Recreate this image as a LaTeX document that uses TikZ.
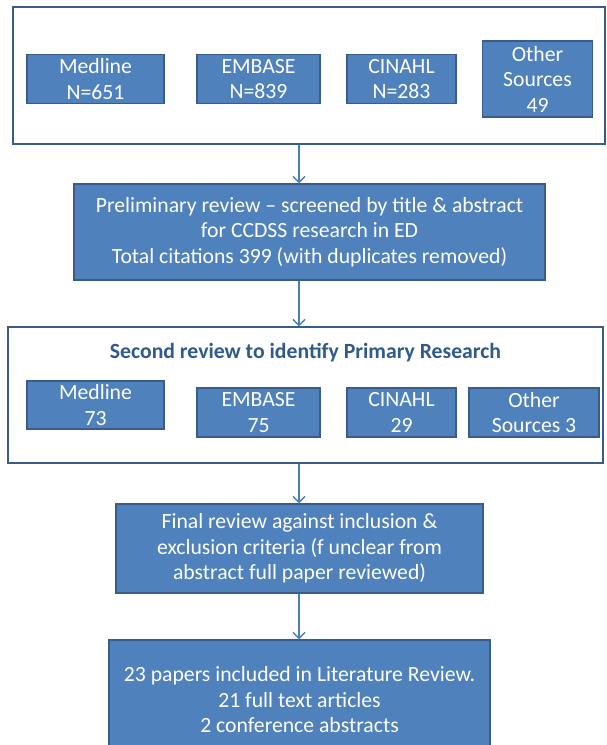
\documentclass[tikz,border=0pt]{standalone}
\usepackage{fontspec}
\setmainfont{Carlito}
\usetikzlibrary{arrows.meta}
\definecolor{boxblue}{HTML}{4F81BD}
\definecolor{boxedge}{HTML}{385D8A}
\definecolor{arrblue}{HTML}{4A7EBB}
\definecolor{titleblue}{HTML}{2F5A8E}
\tikzset{
  bluebox/.style={draw=boxedge, line width=1.4pt, fill=boxblue, text=white, align=center,
    font=\fontsize{21.7}{25.5}\selectfont, inner sep=0pt},
  outerbox/.style={draw=boxedge, line width=1.4pt, fill=white, inner sep=0pt},
  arr/.style={draw=arrblue, line width=1.3pt, -{Straight Barb[length=6pt,width=12pt,line width=1.3pt]}}
}
\begin{document}
\begin{tikzpicture}[x=1pt,y=-1pt]
\useasboundingbox (0,0) rectangle (606,745);
\fill[white] (0,0) rectangle (606,745);
% top group
\node[outerbox, minimum width=592pt, minimum height=137pt] (top) at (309,75.5) {};
\node[bluebox, minimum width=137pt, minimum height=49pt] (m1) at (95.5,79) {Medline\\N=651};
\node[bluebox, minimum width=123pt, minimum height=49pt] (e1) at (258.5,79) {EMBASE\\N=839};
\node[bluebox, minimum width=109pt, minimum height=49pt] (c1) at (401.5,79) {CINAHL\\N=283};
\node[bluebox, minimum width=110pt, minimum height=76pt] (o1) at (537.5,79) {Other\\Sources\\49};
% preliminary
\node[bluebox, minimum width=471pt, minimum height=96pt] (prelim) at (309.5,232) {Preliminary review -- screened by title \& abstract\\for CCDSS research in ED\\Total citations 399 (with duplicates removed)};
% second group
\node[outerbox, minimum width=595pt, minimum height=136pt] (second) at (305.5,395) {};
\node[text=titleblue, font=\fontsize{21.7}{25.5}\selectfont\bfseries] (title) at (305.5,353) {Second review to identify Primary Research};
\node[bluebox, minimum width=137pt, minimum height=48pt] (m2) at (95.5,405) {Medline\\73};
\node[bluebox, minimum width=123pt, minimum height=49pt] (e2) at (258.5,412.5) {EMBASE\\75};
\node[bluebox, minimum width=109pt, minimum height=49pt] (c2) at (401.5,412.5) {CINAHL\\29};
\node[bluebox, minimum width=130pt, minimum height=49pt] (o2) at (534,412.5) {Other\\Sources 3};
% final review
\node[bluebox, minimum width=367pt, minimum height=89pt] (final) at (299.5,548.5) {Final review against inclusion \&\\exclusion criteria (f unclear from\\abstract full paper reviewed)};
\node[bluebox, minimum width=381pt, minimum height=120pt] (incl) at (299.5,700) {23 papers included in Literature Review.\\21 full text articles\\2 conference abstracts};
% arrows
\coordinate (ax) at (299,0);
\draw[arr] (ax |- top.south) -- (ax |- prelim.north);
\draw[arr] (ax |- prelim.south) -- (ax |- second.north);
\draw[arr] (ax |- second.south) -- (ax |- final.north);
\draw[arr] (ax |- final.south) -- (ax |- incl.north);
\end{tikzpicture}
\end{document}
